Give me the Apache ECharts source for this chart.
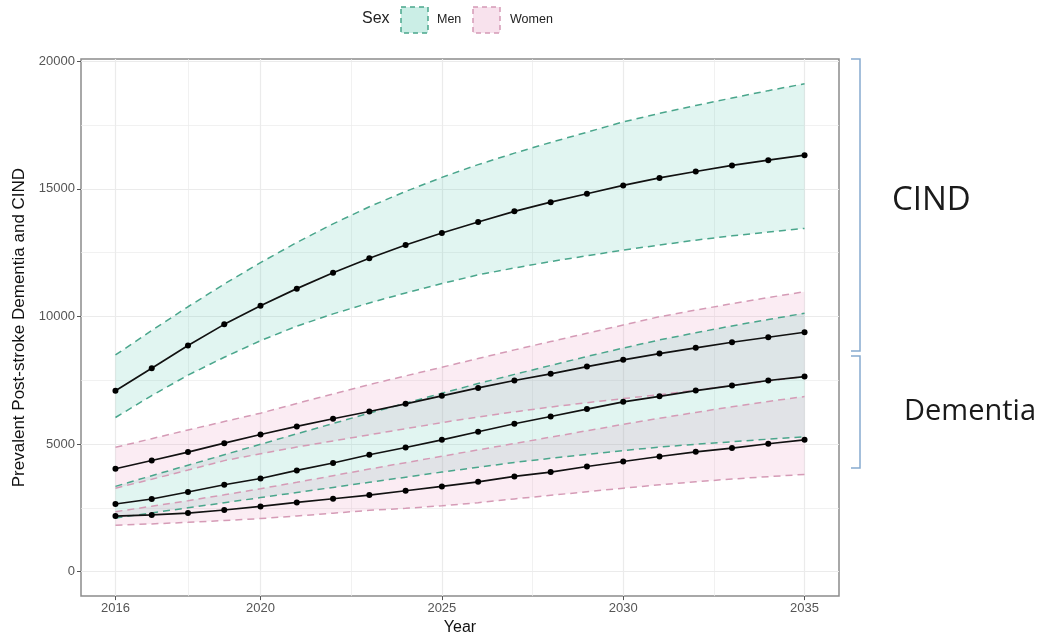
<!DOCTYPE html>
<html>
	<head>
		<meta charset="utf-8">
		<title>Post-stroke dementia and CIND</title>
		<script src="https://cdn.jsdelivr.net/npm/echarts@6.0.0/dist/echarts.min.js"></script>
	</head>
	<body style="margin:0">
		<div id="box" style="width: 1041px;height: 641px;"></div>
		<script>
			// data
			var years = [2016, 2017, 2018, 2019, 2020, 2021, 2022, 2023, 2024, 2025, 2026, 2027, 2028, 2029, 2030, 2031, 2032, 2033, 2034, 2035]

			var menCind   = [7085, 7970, 8860, 9690, 10420, 11090, 11715, 12280, 12800, 13270, 13700, 14120, 14480, 14810, 15135, 15430, 15680, 15920, 16125, 16320]
			var menCindHi = [8490, 9450, 10380, 11270, 12110, 12900, 13630, 14300, 14900, 15450, 15950, 16400, 16820, 17220, 17625, 17960, 18270, 18560, 18850, 19120]
			var menCindLo = [6040, 6900, 7700, 8400, 9050, 9620, 10100, 10530, 10920, 11290, 11630, 11900, 12150, 12380, 12600, 12800, 12990, 13160, 13310, 13450]

			var womenCind   = [4030, 4355, 4685, 5035, 5375, 5690, 5990, 6275, 6575, 6890, 7200, 7490, 7750, 8035, 8300, 8545, 8770, 8990, 9185, 9380]
			var womenCindHi = [4870, 5210, 5550, 5880, 6210, 6590, 6960, 7330, 7670, 8010, 8350, 8690, 9015, 9340, 9665, 9990, 10250, 10500, 10740, 10970]
			var womenCindLo = [3270, 3620, 3980, 4350, 4620, 4880, 5120, 5360, 5600, 5840, 6060, 6260, 6450, 6620, 6780, 6930, 7110, 7290, 7470, 7650]

			var menDem   = [2650, 2845, 3120, 3405, 3650, 3965, 4255, 4580, 4865, 5165, 5480, 5795, 6080, 6370, 6655, 6870, 7095, 7290, 7490, 7645]
			var menDemHi = [3340, 3760, 4170, 4580, 4990, 5400, 5805, 6210, 6600, 6990, 7370, 7730, 8080, 8430, 8760, 9080, 9360, 9630, 9880, 10125]
			var menDemLo = [2100, 2300, 2500, 2700, 2900, 3100, 3300, 3500, 3700, 3900, 4090, 4280, 4440, 4590, 4740, 4880, 4990, 5090, 5190, 5280]

			var womenDem   = [2175, 2220, 2295, 2415, 2555, 2710, 2855, 3000, 3170, 3340, 3520, 3730, 3900, 4120, 4315, 4510, 4695, 4840, 5010, 5165]
			var womenDemHi = [2350, 2560, 2780, 3010, 3250, 3500, 3760, 4020, 4270, 4520, 4770, 5020, 5270, 5520, 5770, 6010, 6240, 6460, 6670, 6860]
			var womenDemLo = [1820, 1870, 1930, 2000, 2080, 2180, 2290, 2400, 2480, 2580, 2700, 2850, 2990, 3130, 3270, 3400, 3520, 3630, 3720, 3810]

			// axis breaks
			var xBreaks = [2016, 2020, 2025, 2030, 2035]
			var xMinor = [2018, 2022.5, 2027.5, 2032.5]
			var yBreaks = [0, 5000, 10000, 15000, 20000]
			var yMinor = [2500, 7500, 12500, 17500]

			var sexColor = {
				Men: { line: '#4aa68c', fill: 'rgba(70,195,165,0.16)' },
				Women: { line: '#d59bb6', fill: 'rgba(225,125,175,0.15)' }
			}

			function pairs(arr) {
				return years.map(function (y, i) { return [y, arr[i]] })
			}

			var series = []

			// light grid lines (ggplot theme_bw style)
			var gridLines = []
			xBreaks.forEach(function (v) { gridLines.push({ xAxis: v, lineStyle: { width: 1.2 } }) })
			xMinor.forEach(function (v) { gridLines.push({ xAxis: v, lineStyle: { width: 0.7 } }) })
			yBreaks.forEach(function (v) { gridLines.push({ yAxis: v, lineStyle: { width: 1.2 } }) })
			yMinor.forEach(function (v) { gridLines.push({ yAxis: v, lineStyle: { width: 0.7 } }) })
			series.push({
				type: 'line',
				data: pairs(womenDem),
				symbol: 'none',
				lineStyle: { opacity: 0 },
				silent: true,
				z: 0,
				markLine: {
					silent: true,
					symbol: ['none', 'none'],
					label: { show: false },
					lineStyle: { color: '#ebebeb', type: 'solid' },
					z: 0,
					data: gridLines
				}
			})

			function addGroup(sex, mid, lo, hi) {
				var c = sexColor[sex]
				// ribbon between lo and hi, drawn once as one polygon
				series.push({
					type: 'custom',
					data: pairs(mid),
					silent: true,
					z: 2,
					renderItem: function (params, api) {
						if (params.dataIndex !== 0) return
						var pts = []
						for (var i = 0; i < years.length; i++) pts.push(api.coord([years[i], hi[i]]))
						for (var j = years.length - 1; j >= 0; j--) pts.push(api.coord([years[j], lo[j]]))
						return { type: 'polygon', shape: { points: pts }, style: { fill: c.fill } }
					}
				})
				// dashed bounds
				;[lo, hi].forEach(function (b) {
					series.push({
						type: 'line', data: pairs(b), symbol: 'none', silent: true, z: 3,
						lineStyle: { color: c.line, width: 1.5, type: [7, 5] }
					})
				})
				// central estimate
				series.push({
					type: 'line', data: pairs(mid), symbol: 'circle', symbolSize: 6, silent: true, z: 4,
					itemStyle: { color: '#000' },
					lineStyle: { color: '#111', width: 1.7 }
				})
			}

			addGroup('Men', menCind, menCindLo, menCindHi)
			addGroup('Women', womenCind, womenCindLo, womenCindHi)
			addGroup('Men', menDem, menDemLo, menDemHi)
			addGroup('Women', womenDem, womenDemLo, womenDemHi)

			var mCharts = echarts.init(document.querySelector('#box'))

			var option = {
				animation: false,
				textStyle: { fontFamily: 'Liberation Sans, Arial, sans-serif' },
				grid: {
					left: 81, right: 202, top: 59, bottom: 44,
					show: true, borderColor: '#8c8c8c', borderWidth: 1.5, backgroundColor: '#fff'
				},
				xAxis: {
					type: 'value',
					min: 2015.05,
					max: 2035.95,
					name: 'Year',
					nameLocation: 'middle',
					nameGap: 22,
					nameTextStyle: { color: '#111', fontSize: 16 },
					axisLine: { show: false, onZero: false },
					splitLine: { show: false },
					axisTick: { show: true, length: 4, customValues: xBreaks, lineStyle: { color: '#555' } },
					axisLabel: {
						customValues: xBreaks, color: '#555', fontSize: 13, margin: 6,
						formatter: function (v) { return String(v) }
					}
				},
				yAxis: {
					type: 'value',
					min: -960,
					max: 20090,
					name: 'Prevalent Post-stroke Dementia and CIND',
					nameLocation: 'middle',
					nameGap: 52,
					nameTextStyle: { color: '#111', fontSize: 17 },
					axisLine: { show: false, onZero: false },
					splitLine: { show: false },
					axisTick: { show: true, length: 4, customValues: yBreaks, lineStyle: { color: '#555' } },
					axisLabel: {
						customValues: yBreaks, color: '#555', fontSize: 13, margin: 6,
						formatter: function (v) { return String(v) }
					}
				},
				series: series,
				graphic: [
					// legend
					{ type: 'text', left: 362, top: 11, style: { text: 'Sex', fontSize: 16, fill: '#222', fontFamily: 'Liberation Sans' } },
					{ type: 'rect', shape: { x: 401, y: 7, width: 27, height: 26 },
						style: { fill: 'rgba(70,195,165,0.28)', stroke: sexColor.Men.line, lineWidth: 1.5, lineDash: [5, 4] } },
					{ type: 'text', left: 437, top: 13, style: { text: 'Men', fontSize: 12.5, fill: '#222', fontFamily: 'Liberation Sans' } },
					{ type: 'rect', shape: { x: 473, y: 7, width: 27, height: 26 },
						style: { fill: 'rgba(225,125,175,0.22)', stroke: sexColor.Women.line, lineWidth: 1.5, lineDash: [5, 4] } },
					{ type: 'text', left: 510, top: 13, style: { text: 'Women', fontSize: 12.5, fill: '#222', fontFamily: 'Liberation Sans' } },
					// brackets on the right
					{ type: 'polyline', shape: { points: [[851, 59], [860, 59], [860, 351], [851, 351]] },
						style: { stroke: '#86abd0', lineWidth: 1.5, fill: null } },
					{ type: 'polyline', shape: { points: [[851, 356], [860, 356], [860, 468], [851, 468]] },
						style: { stroke: '#86abd0', lineWidth: 1.5, fill: null } },
					{ type: 'text', left: 892, top: 184, style: { text: 'CIND', fontSize: 33, fill: '#1a1a1a', fontFamily: 'Open Sans' } },
					{ type: 'text', left: 904, top: 397, style: { text: 'Dementia', fontSize: 29, fill: '#1a1a1a', fontFamily: 'Open Sans' } }
				]
			}
			mCharts.setOption(option)
		</script>
	</body>
</html>
